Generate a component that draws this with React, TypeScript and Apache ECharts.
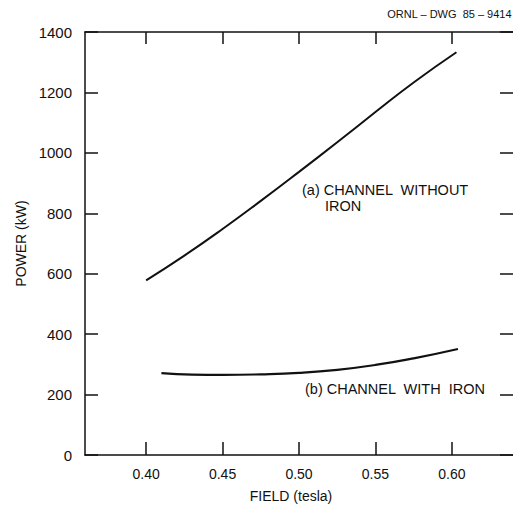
import React, { useEffect, useRef } from "react";
import * as echarts from "echarts";

const fieldA = [0.40, 0.425, 0.45, 0.475, 0.50, 0.525, 0.55, 0.575, 0.603];
const powerA = [578, 660, 748, 841, 937, 1035, 1135, 1233, 1333];
const fieldB = [0.41, 0.43, 0.45, 0.475, 0.50, 0.525, 0.55, 0.575, 0.604];
const powerB = [271, 266, 265, 267, 272, 282, 298, 320, 351];
const xTicks = [0.40, 0.45, 0.50, 0.55, 0.60];
const xMin = 0.36;
const xMax = 0.64;
const yMin = 0;
const yMax = 1400;
const yStep = 200;

const FONT = "Liberation Sans";
const INK = "#111";

export default function App() {
  const ref = useRef<HTMLDivElement>(null);
  useEffect(() => {
    if (!ref.current) return;
    const chart = echarts.init(ref.current, undefined, { renderer: "svg" });
    const tickCommon = { show: true, inside: true, length: 13, lineStyle: { color: INK, width: 1.5 } };
    chart.setOption({
      animation: false,
      backgroundColor: "#fff",
      grid: { left: 85, top: 32, bottom: 47, right: -3 },
      xAxis: [
        {
          type: "value",
          min: xMin,
          max: xMax,
          position: "bottom",
          name: "FIELD (tesla)",
          nameLocation: "middle",
          nameGap: 34,
          nameTextStyle: { color: INK, fontFamily: FONT, fontSize: 14, padding: [0, 16, 0, 0] },
          axisLine: { show: true, onZero: false, lineStyle: { color: INK, width: 1.5 } },
          axisTick: { ...tickCommon, customValues: xTicks },
          axisLabel: {
            customValues: xTicks,
            formatter: (v: number) => v.toFixed(2),
            color: INK,
            fontFamily: FONT,
            fontSize: 14,
            margin: 12,
          },
          splitLine: { show: false },
        },
        {
          type: "value",
          min: xMin,
          max: xMax,
          position: "top",
          axisLine: { show: true, onZero: false, lineStyle: { color: INK, width: 1.5 } },
          axisTick: { ...tickCommon, length: 12, customValues: xTicks },
          axisLabel: { show: false },
          splitLine: { show: false },
        },
      ],
      yAxis: [
        {
          type: "value",
          min: yMin,
          max: yMax,
          interval: yStep,
          position: "left",
          name: "POWER (kW)",
          nameLocation: "middle",
          nameGap: 53,
          nameTextStyle: { color: INK, fontFamily: FONT, fontSize: 14 },
          axisLine: { show: true, onZero: false, lineStyle: { color: INK, width: 1.5 } },
          axisTick: tickCommon,
          axisLabel: {
            color: INK,
            fontFamily: FONT,
            fontSize: 15,
            margin: 13,
            formatter: (v: number) => String(v),
          },
          splitLine: { show: false },
        },
        {
          type: "value",
          min: yMin,
          max: yMax,
          interval: yStep,
          position: "right",
          axisLine: { show: false },
          axisTick: tickCommon,
          axisLabel: { show: false },
          splitLine: { show: false },
        },
      ],
      series: [
        {
          name: "(a) CHANNEL WITHOUT IRON",
          type: "line",
          smooth: 0.5,
          showSymbol: false,
          data: fieldA.map((f, i) => [f, powerA[i]]),
          lineStyle: { color: INK, width: 2 },
        },
        {
          name: "(b) CHANNEL WITH IRON",
          type: "line",
          smooth: 0.5,
          showSymbol: false,
          data: fieldB.map((f, i) => [f, powerB[i]]),
          lineStyle: { color: INK, width: 2.2 },
        },
      ],
      graphic: [
        {
          type: "text",
          right: 1,
          top: 8,
          style: { text: "ORNL – DWG  85 – 9414", fill: INK, font: `11px "${FONT}"` },
        },
        {
          type: "text",
          left: 302,
          top: 182,
          style: { text: "(a) CHANNEL  WITHOUT", fill: INK, font: `14.5px "${FONT}"` },
        },
        {
          type: "text",
          left: 325,
          top: 198,
          style: { text: "IRON", fill: INK, font: `14.5px "${FONT}"` },
        },
        {
          type: "text",
          left: 305,
          top: 381,
          style: { text: "(b) CHANNEL  WITH  IRON", fill: INK, font: `14.5px "${FONT}"` },
        },
      ],
    });
    return () => chart.dispose();
  }, []);
  return (
    <div
      ref={ref}
      style={{ position: "fixed", left: 0, top: 0, width: 513, height: 508, background: "#fff" }}
    />
  );
}
